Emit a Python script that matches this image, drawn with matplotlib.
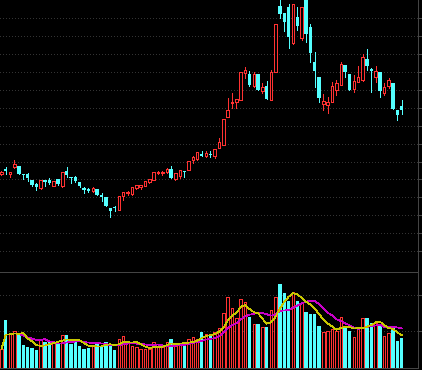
import numpy as np
import pandas as pd
import matplotlib
matplotlib.use("Agg")
import matplotlib.pyplot as plt

plt.rcParams['patch.antialiased'] = False
plt.rcParams['lines.antialiased'] = False

# ---- data (price units are arbitrary; no axis labels shown) ----
opens = [98, 103, 97.7, 104.7, 106, 98, 98, 92, 87.7, 83.7,
         91.8, 92.5, 86.3, 92.8, 86.3, 101.3, 95.3, 95.3, 90, 83.7,
         83, 81, 83.3, 77, 75.3, 63.7, 65.3, 62, 76, 79.2,
         77.7, 84.3, 85.5, 86.3, 89.7, 92.5, 99.5, 98.8, 99.7, 103,
         92.7, 96.3, 101, 102, 111.7, 112.8, 118.5, 116.5, 118.3, 115.7,
         124.5, 127.3, 155.3, 169, 169.7, 172, 198.7, 198, 186, 198,
         181.3, 186.3, 172, 200.3, 266, 259.3, 264.7, 228.7, 254.7, 233.7,
         275, 245.3, 209.7, 195.3, 168, 167, 170.3, 182.3, 187.5, 207,
         198, 182.7, 190.3, 192.3, 212.8, 203, 194.7, 200, 179.2, 186.3,
         189.3, 162.3, 166]
highs = [101, 105.3, 100.5, 112, 106.3, 98.5, 99.3, 92, 88.7, 92.5,
         92.5, 94, 91.5, 93, 100, 104.7, 95.5, 96.3, 90.5, 84.7,
         84.3, 85.3, 83.5, 79, 75.5, 64, 66, 76.3, 80.3, 81.3,
         85.3, 87, 86.8, 91.3, 93, 100, 101.5, 101.3, 103.7, 106,
         99, 102.3, 101.3, 111.5, 116.3, 120.5, 121.3, 121, 121.3, 123,
         133.7, 153, 173.7, 178.7, 173.5, 200.5, 205.3, 201, 200.3, 198.5,
         188.7, 191, 202, 248.5, 273, 259.5, 268, 268, 265.5, 265,
         277, 248, 220.3, 195.5, 178, 175.3, 190.3, 192, 210.3, 207.3,
         198.3, 197, 206, 218, 222.7, 203.7, 206.3, 200.3, 189.3, 193.7,
         189.5, 162.5, 172]
lows = [97, 98.5, 95.3, 104.5, 98, 92.7, 91.3, 86.5, 82, 83,
        86.5, 87.7, 86, 87.5, 85.3, 95.3, 89.3, 90.5, 84.7, 79.5,
        80.3, 79.7, 76.8, 71, 66, 55.3, 61.5, 61.7, 72, 77,
        77.5, 83.5, 83, 86, 89.5, 92, 98.5, 96.7, 99.3, 94,
        92.5, 93.7, 95.3, 101.7, 109.3, 112.5, 116.3, 115.3, 114.7, 113.7,
        124.3, 127, 155, 163.7, 163.7, 171.7, 194.3, 186, 184.7, 181.7,
        178.7, 172.7, 171.7, 200, 253.7, 241.3, 223.7, 228.5, 242, 232,
        230.3, 210.3, 184.7, 170.3, 162, 159.3, 170, 177, 187, 195.3,
        182, 180.3, 190, 191.3, 202.5, 180, 190.3, 175.3, 177, 183.7,
        162.7, 152.3, 158]
closes = [100, 101, 100, 108, 98, 96.7, 94, 86.7, 85.3, 92.5,
          90.5, 89, 91, 87.8, 99.7, 97, 94, 90.7, 86.3, 82,
          81.3, 83.7, 77, 75.3, 66.3, 61.3, 64, 76, 80, 79.7,
          85, 86.7, 86.7, 91, 92.8, 99.7, 100.5, 99.7, 103, 94.3,
          98.7, 102, 99.7, 111.3, 115.3, 120.3, 116.5, 118.7, 117.5, 122.8,
          130, 152.7, 162, 170.3, 173, 200.3, 202, 187, 198, 182,
          185.3, 173, 200.3, 248, 258, 250.3, 235.3, 267.7, 246, 264.7,
          238, 219.3, 201, 174.3, 171, 170.3, 186.5, 189.3, 207.8, 200.3,
          182.3, 191.3, 194.7, 214.7, 206.2, 201.2, 201, 181.3, 185.3, 192.3,
          163, 157.5, 162.3]
volumes = [19, 48, 34, 37, 33, 23, 21, 20, 18, 28,
           26, 27, 25, 25, 33, 33, 24, 26, 22, 19,
           20, 23, 24, 22, 26, 24, 18, 29, 32, 26,
           22, 21, 19, 19, 19, 26.3, 21, 21, 26, 29,
           22, 24, 23, 29, 31.3, 29, 36.3, 34, 34, 36,
           40.3, 55.3, 71.3, 59.7, 49.7, 69, 65.7, 51.3, 44, 43.7,
           41.3, 41.3, 58, 71.3, 84, 75.3, 67.3, 75.7, 67.3, 64.7,
           56.3, 54, 53.7, 42, 36.3, 37, 38.7, 37.3, 50.7, 41.3,
           37, 31.3, 38.7, 49.7, 49.7, 44.7, 45, 43, 32, 35,
           40.7, 27.3, 29.7]

opens = np.array(opens, float)
highs = np.array(highs, float)
lows = np.array(lows, float)
closes = np.array(closes, float)
volumes = np.array(volumes, float)
n = len(opens)
x = np.arange(n)
up = closes >= opens

UP = '#ff3232'
DOWN = '#54ffff'
GRID = '#333333'
FRAME = '#444444'
PX = 0.72  # one pixel in points

W = 422 / 100
H = 370 / 100
fig = plt.figure(figsize=(W, H), dpi=100, facecolor='black')
right = 417.5 / 422
ax = fig.add_axes([0, 1 - 271.5 / 370, right, 271.5 / 370])
axv = fig.add_axes([0, 2 / 370, right, (368 - 272) / 370])

xmin, xmax = -0.333, 95.64
for a in (ax, axv):
    a.set_facecolor('black')
    a.set_xlim(xmin, xmax)
    a.spines['left'].set_visible(False)
    for s in ('right', 'top', 'bottom'):
        a.spines[s].set_color(FRAME)
        a.spines[s].set_linewidth(PX)
    a.set_xticks([])
    a.tick_params(axis='y', which='both', left=False, right=True,
                  labelleft=False, labelright=False, color=FRAME,
                  length=3, width=PX, direction='out')
ax.spines['top'].set_visible(False)

ax.set_ylim(0.5, 272)
axv.set_ylim(0, 96)

# grid lines
main_grid = 253.7 - 17.9 * np.arange(14)
ax.set_yticks(main_grid)
for g in main_grid:
    ax.axhline(g, color=GRID, lw=0.5, ls=(0, (1, 4)), zorder=0)
vol_grid = [37, 73]
axv.set_yticks(vol_grid)
for g in vol_grid:
    axv.axhline(g, color=GRID, lw=0.5, ls=(0, (1, 4)), zorder=0)

body_w_fill = 0.76
body_w_hollow = 0.56

# candles
for i in range(n):
    o, h, l, c = opens[i], highs[i], lows[i], closes[i]
    top, bot = max(o, c), min(o, c)
    if up[i]:
        ax.vlines(x[i], top, h, color=UP, lw=PX, zorder=2, antialiased=False)
        ax.vlines(x[i], l, bot, color=UP, lw=PX, zorder=2, antialiased=False)
        hgt = max(top - bot, 0.6)
        ax.bar(x[i], hgt, bottom=bot, width=body_w_hollow, facecolor='black',
               edgecolor=UP, linewidth=PX, zorder=3)
    else:
        ax.vlines(x[i], l, h, color=DOWN, lw=PX, zorder=2, antialiased=False)
        hgt = max(top - bot, 1.0)
        ax.bar(x[i], hgt, bottom=bot, width=body_w_fill, color=DOWN,
               linewidth=0, zorder=3)

# volume
axv.bar(x[up], volumes[up], width=body_w_hollow, facecolor='black',
        edgecolor=UP, linewidth=PX, zorder=2)
axv.bar(x[~up], volumes[~up], width=body_w_fill, color=DOWN,
        linewidth=0, zorder=2)

vs = pd.Series(volumes)
ma5 = vs.rolling(5, min_periods=1).mean()
ma10 = vs.rolling(10, min_periods=1).mean()
axv.plot(x, ma10, color='#c800c8', lw=0.5, zorder=4)
axv.plot(x, ma5, color='#c8c800', lw=0.5, zorder=5)

fig.savefig('out.png', dpi=100, facecolor='black')
